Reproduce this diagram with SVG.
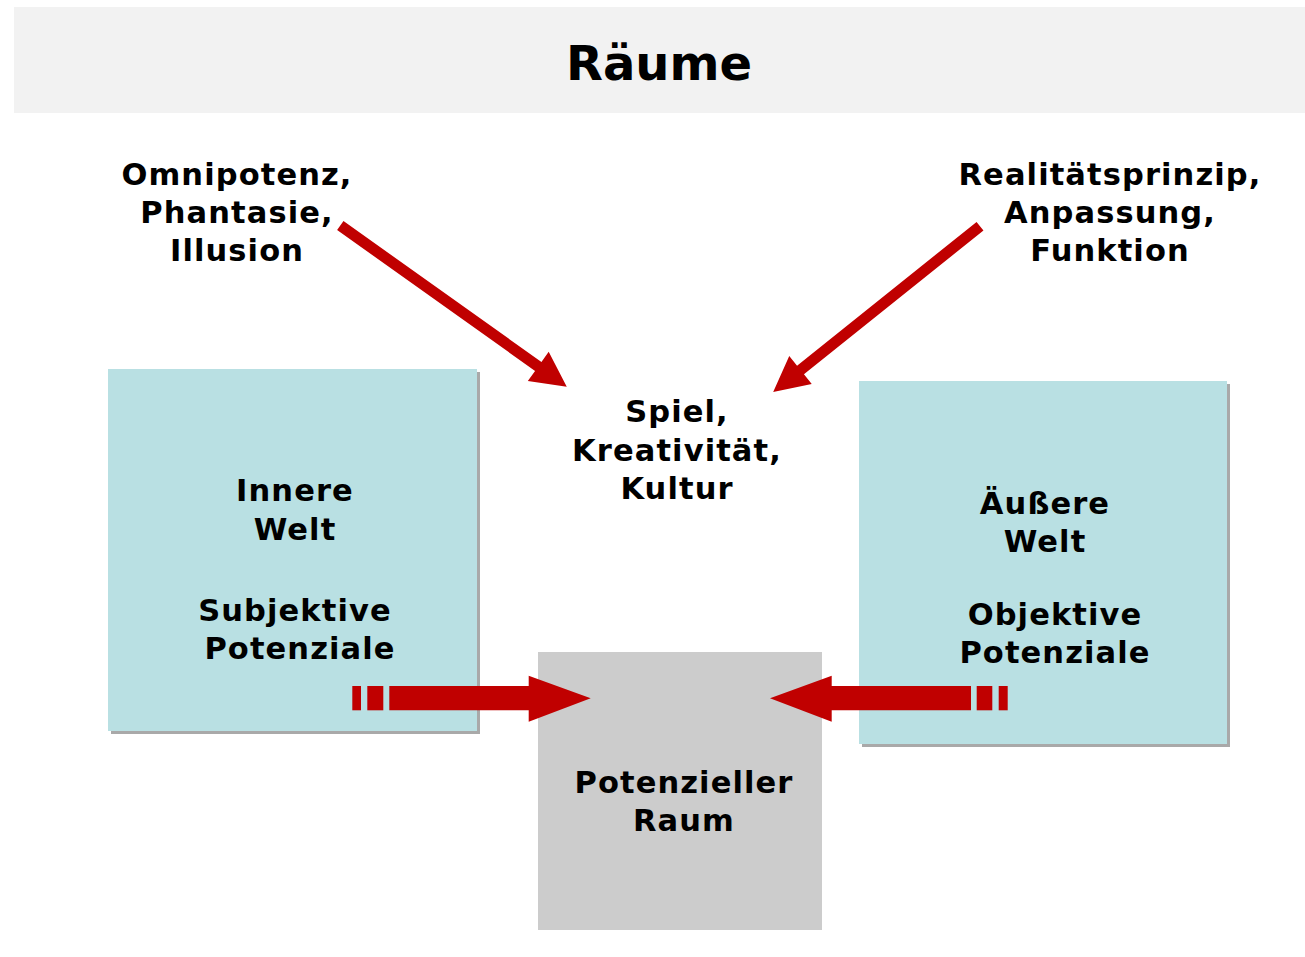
<svg xmlns="http://www.w3.org/2000/svg" width="1305" height="957" viewBox="0 0 1305 957">
<defs>
<style>
text{font-family:"DejaVu Sans","Liberation Sans",sans-serif;font-weight:bold;font-size:30.5px;letter-spacing:1.1px;fill:#000;text-anchor:middle}
.title{font-size:48px;letter-spacing:0}
.world{fill:#b9e0e3}
.shadow{fill:#a9a9a9}
.arrow{fill:#c00000}
</style>
</defs>
<rect x="0" y="0" width="1305" height="957" fill="#ffffff"/>
<g id="header">
<rect x="14" y="7" width="1291" height="106" fill="#f2f2f2"/>
<text class="title" x="659" y="80">Räume</text>
</g>
<g id="omnipotenz">
<text x="237" y="185">Omnipotenz,</text>
<text x="237" y="223">Phantasie,</text>
<text x="237" y="261">Illusion</text>
</g>
<g id="realitaet">
<text x="1110" y="185">Realitätsprinzip,</text>
<text x="1110" y="223">Anpassung,</text>
<text x="1110" y="261">Funktion</text>
</g>
<g id="spiel">
<text x="677" y="422">Spiel,</text>
<text x="677" y="461">Kreativität,</text>
<text x="677" y="499">Kultur</text>
</g>
<g id="innere-welt">
<rect class="shadow" x="111" y="372" width="369" height="362"/>
<rect class="world" x="108" y="369" width="369" height="362"/>
<text x="295" y="501">Innere</text>
<text x="295" y="540">Welt</text>
<text x="295" y="621">Subjektive</text>
<text x="300" y="659">Potenziale</text>
</g>
<g id="aeussere-welt">
<rect class="shadow" x="862" y="384" width="368" height="363"/>
<rect class="world" x="859" y="381" width="368" height="363"/>
<text x="1045" y="514">Äußere</text>
<text x="1045" y="552">Welt</text>
<text x="1055" y="625">Objektive</text>
<text x="1055" y="663">Potenziale</text>
</g>
<g id="potenzieller-raum">
<rect x="538" y="652" width="284" height="278" fill="#cccccc"/>
<text x="684" y="793">Potenzieller</text>
<text x="684" y="831">Raum</text>
</g>
<g id="connectors">
<polygon class="arrow" transform="translate(340.3,225.5) rotate(35.45)" points="0,-5.5 243,-5.5 243,-18 278,0 243,18 243,5.5 0,5.5"/>
<polygon class="arrow" transform="translate(980,226.2) rotate(141.3)" points="0,-5.5 230,-5.5 230,-18 265,0 230,18 230,5.5 0,5.5"/>
<g id="arrow-left-h">
<rect class="arrow" x="352.3" y="686" width="8.7" height="24.3"/>
<rect class="arrow" x="367.3" y="686" width="16" height="24.3"/>
<polygon class="arrow" points="389.3,686 528.7,686 528.7,675.7 590.7,698.2 528.7,721.7 528.7,710.3 389.3,710.3"/>
</g>
<g id="arrow-right-h">
<rect class="arrow" x="998.7" y="686" width="9" height="24.3"/>
<rect class="arrow" x="976.7" y="686" width="15.6" height="24.3"/>
<polygon class="arrow" points="971,686 831.7,686 831.7,675.7 770,698.2 831.7,721.7 831.7,710.3 971,710.3"/>
</g>
</g>
</svg>
